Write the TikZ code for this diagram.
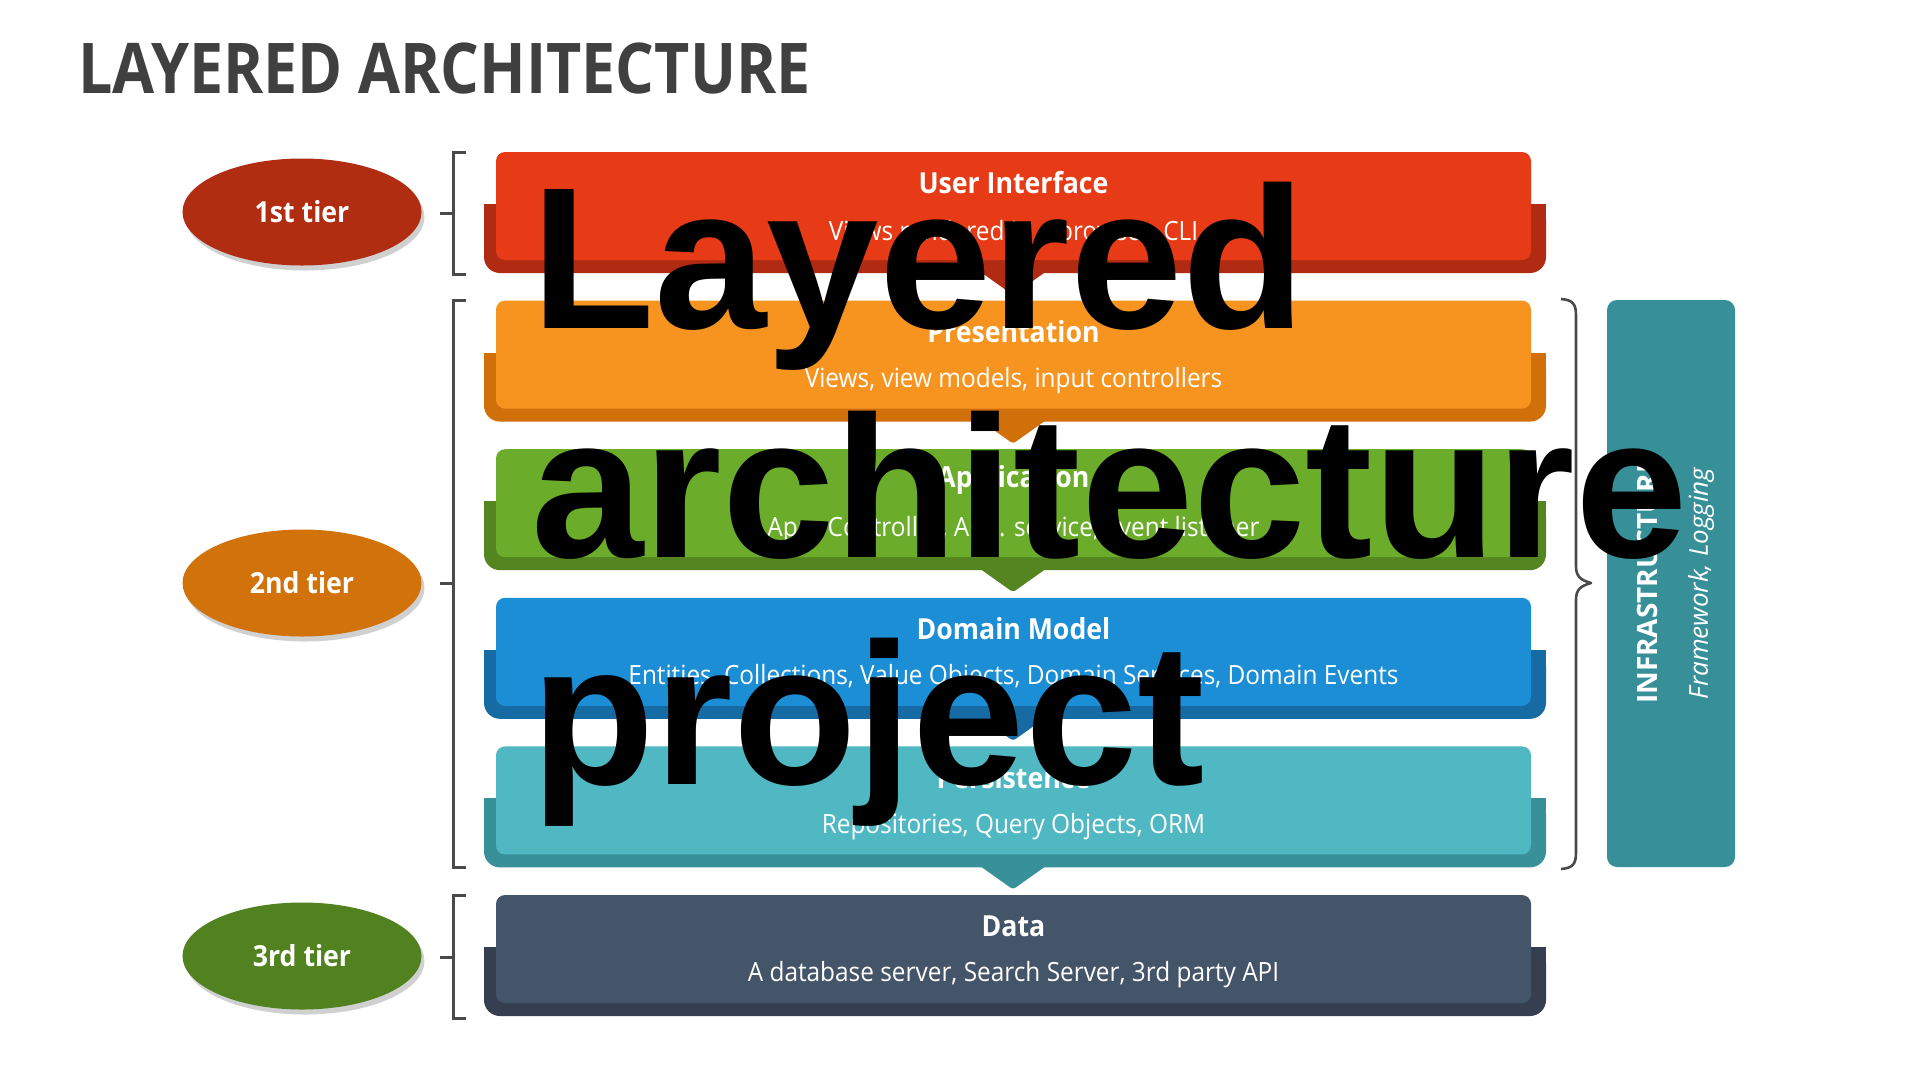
\documentclass[tikz,border=0pt]{standalone}
\usepackage{fontspec}
\setmainfont{Open Sans}[FakeStretch=0.92]
\newfontfamily\titlefont{Open Sans}[FakeStretch=0.871]
\newfontfamily\plainfont{Open Sans}
\newfontfamily\overlayfont{Liberation Sans}
\usetikzlibrary{shadows,shapes.geometric}
\definecolor{redF}{HTML}{E63B16}
\definecolor{redB}{HTML}{B02B12}
\definecolor{orgF}{HTML}{F7941F}
\definecolor{orgB}{HTML}{D16F08}
\definecolor{grnF}{HTML}{6BAD2A}
\definecolor{grnB}{HTML}{548521}
\definecolor{bluF}{HTML}{1B8ED6}
\definecolor{bluB}{HTML}{166BA4}
\definecolor{tealF}{HTML}{4FB8C2}
\definecolor{tealB}{HTML}{389199}
\definecolor{datF}{HTML}{445469}
\definecolor{datB}{HTML}{353F4F}
\definecolor{infraC}{HTML}{378F98}
\definecolor{ellA}{HTML}{B12D12}
\definecolor{ellB}{HTML}{D2720A}
\definecolor{ellC}{HTML}{52821F}
\definecolor{titlegray}{HTML}{404040}
\definecolor{brk}{HTML}{4A4A4A}
\tikzset{
  frontbox/.style={rectangle, rounded corners=9pt, minimum width=1035pt, minimum height=108pt, inner sep=0pt},
  ltitle/.style={text=white, font=\bfseries\fontsize{29}{33}\selectfont, inner sep=0pt},
  lsub/.style={text=white, font=\fontsize{26.5}{30}\selectfont, inner sep=0pt},
  tier/.style={ellipse, minimum width=239pt, minimum height=107pt, inner sep=0pt, text=white,
     font=\bfseries\fontsize{29}{33}\selectfont,
     drop shadow={shadow xshift=3pt, shadow yshift=-5pt, opacity=0.3, fill=black!60}},
  bracketline/.style={draw=brk, line width=3pt},
  overlay text/.style={anchor=base west, inner sep=0pt, text=black, font=\overlayfont\bfseries\fontsize{202}{230}\selectfont}
}
\newcommand\mylayer[7]{%
  \pgfmathsetmacro\bt{#2+52}%
  \pgfmathsetmacro\bs{#2+80}%
  \pgfmathsetmacro\bb{#2+121}%
  \pgfmathsetmacro\pt{#2+116}%
  \pgfmathsetmacro\tip{#2+143}%
  \fill[#4, rounded corners=16pt] (484,\bt) rectangle (1546,\bb);
  \fill[#4] (484,\bt) rectangle (1546,\bs);
  \ifnum#7=1
    \fill[#4, rounded corners=3pt] (975,\pt) -- (1051,\pt) -- (1013,\tip) -- cycle;
  \fi
  \node[frontbox, fill=#3] (#1) at (1013.5,#2+54) {};
  \node[ltitle] (#1-title) at (1013.5,#2+31) {#5};
  \node[lsub] (#1-sub) at (1013.5,#2+80) {#6};
}
\begin{document}
\begin{tikzpicture}[x=1pt,y=-1pt]
\useasboundingbox[fill=white] (0,0) rectangle (1920,1080);
% title
\node[anchor=base west, inner sep=0pt, text=titlegray, font=\titlefont\bfseries\fontsize{70}{80}\selectfont] (title) at (78,93) {LAYERED ARCHITECTURE};
% layers
\mylayer{ui}{152}{redF}{redB}{User Interface}{Views rendered in a browser, CLI}{1}
\mylayer{pres}{300.6}{orgF}{orgB}{Presentation}{Views, view models, input controllers}{1}
\mylayer{app}{449.2}{grnF}{grnB}{Application}{App. Controller, App. service, Event listener}{1}
\mylayer{dom}{597.8}{bluF}{bluB}{Domain Model}{Entities, Collections, Value Objects, Domain Services, Domain Events}{1}
\mylayer{pers}{746.4}{tealF}{tealB}{Persistence}{Repositories, Query Objects, ORM}{1}
\mylayer{data}{895}{datF}{datB}{Data}{A database server, Search Server, 3rd party API}{0}
% tiers
\node[tier, fill=ellA] (t1) at (302,212) {1st tier};
\node[tier, fill=ellB] (t2) at (302,583) {2nd tier};
\node[tier, fill=ellC] (t3) at (302,956) {3rd tier};
% brackets
\draw[bracketline] (466,152) -- (453,152) -- (453,274) -- (466,274);
\draw[bracketline] (440,213) -- (453,213);
\draw[bracketline] (466,300) -- (453,300) -- (453,867) -- (466,867);
\draw[bracketline] (440,583) -- (453,583);
\draw[bracketline] (466,895) -- (453,895) -- (453,1018) -- (466,1018);
\draw[bracketline] (440,957) -- (453,957);
% right brace
\draw[draw=brk, line width=2.6pt, line join=round]
  (1561,299) .. controls (1573,300) and (1576,304) .. (1576,316)
  -- (1576,566) .. controls (1576,576) and (1580,580) .. (1591,583)
  .. controls (1580,586) and (1576,590) .. (1576,600)
  -- (1576,852) .. controls (1576,864) and (1573,868) .. (1561,869);
% infrastructure
\node[rectangle, rounded corners=10pt, fill=infraC, minimum width=128pt, minimum height=567pt, inner sep=0pt] (infra) at (1671,583.5) {};
\node[rotate=90, text=white, inner sep=0pt, font=\plainfont\bfseries\fontsize{28}{32}\selectfont] (infra-title) at (1647,581) {INFRASTRUCTURE};
\node[rotate=90, text=white, inner sep=0pt, font=\plainfont\itshape\fontsize{26}{30}\selectfont] (infra-sub) at (1701,583.5) {Framework, Logging};
% overlay text
\node[overlay text] (ov1) at (531,328) {Layered};
\node[overlay text] (ov2) at (531,557) {architecture};
\node[overlay text] (ov3) at (531,784) {project};
\end{tikzpicture}
\end{document}
